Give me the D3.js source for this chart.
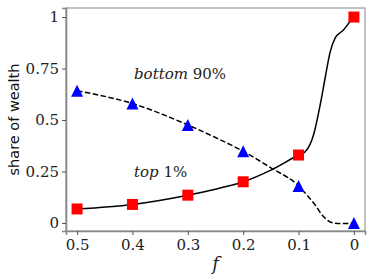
<!DOCTYPE html>
<meta charset="utf-8">
<script src="https://d3js.org/d3.v7.min.js"></script>
<style>
  body { margin: 0; background: white; }
  .serif { font-family: "DejaVu Serif", "Liberation Serif", serif; }
</style>
<div id="chart"></div>
<script>

  // marker positions (f) and the two series
  const fMarks = [0.5, 0.4, 0.3, 0.2, 0.1, 0];
  const top1 = [0.068, 0.09, 0.135, 0.2, 0.33, 1.0];
  const bottom90 = [0.642, 0.58, 0.476, 0.348, 0.18, 0.0];

  // the smooth curves drawn under the markers
  const fTopCurve = [0.5, 0.4, 0.3, 0.25, 0.2, 0.15, 0.1, 0.088, 0.073, 0.061, 0.052, 0.043, 0.034, 0.019, 0.007, 0];
  const topCurve = [0.068, 0.09, 0.135, 0.164, 0.2, 0.257, 0.33, 0.346, 0.427, 0.573, 0.704, 0.83, 0.898, 0.937, 0.978, 1.0];
  const fBottomCurve = [0.5, 0.4, 0.3, 0.25, 0.2, 0.15, 0.1, 0.085, 0.07, 0.055, 0.037, 0.02, 0];
  const bottomCurve = [0.642, 0.58, 0.476, 0.415, 0.348, 0.268, 0.18, 0.136, 0.087, 0.031, 0.0, -0.003, 0.0];

  const xTicks = [0.5, 0.4, 0.3, 0.2, 0.1, 0];
  const yTicks = [0, 0.25, 0.5, 0.75, 1];

  const W = 374, H = 280;
  const mLeft = 66, mRight = 365, mTop = 8, mBottom = 231;

  const svg = d3.select("#chart")
    .append("svg")
      .attr("width", W)
      .attr("height", H);

  const x = d3.scaleLinear().domain([0.52, -0.02]).range([mLeft, mRight]);
  const y = d3.scaleLinear().domain([-0.039, 1.044]).range([mBottom, mTop]);

  // frame
  svg.append("rect")
    .attr("x", mLeft).attr("y", mTop)
    .attr("width", mRight - mLeft).attr("height", mBottom - mTop)
    .attr("fill", "none").attr("stroke", "#999").attr("stroke-width", 1.2);

  // axes
  const xAxis = svg.append("g")
    .attr("transform", `translate(0,${mBottom})`)
    .call(d3.axisBottom(x).tickValues(xTicks).tickSize(4).tickPadding(4)
      .tickFormat(d => d === 0 ? "0" : d3.format(".1f")(d)));
  const yAxis = svg.append("g")
    .attr("transform", `translate(${mLeft},0)`)
    .call(d3.axisLeft(y).tickValues(yTicks).tickSize(4).tickPadding(3)
      .tickFormat(d => d === 0 ? "0" : d === 1 ? "1" : String(d)));

  [xAxis, yAxis].forEach(a => {
    a.attr("font-family", null);
    a.select(".domain").attr("stroke", "#888").attr("stroke-width", 1.6);
    a.selectAll(".tick line").attr("stroke", "#555");
    a.selectAll("text")
      .attr("class", "serif")
      .attr("font-size", 15)
      .attr("fill", "#222");
  });

  // curves
  const line = d3.line()
    .x(d => x(d[0]))
    .y(d => y(d[1]))
    .curve(d3.curveMonotoneX);

  svg.append("path")
    .datum(fTopCurve.map((f, i) => [f, topCurve[i]]))
    .attr("d", line)
    .attr("fill", "none")
    .attr("stroke", "black")
    .attr("stroke-width", 1.5);

  svg.append("path")
    .datum(fBottomCurve.map((f, i) => [f, bottomCurve[i]]))
    .attr("d", line)
    .attr("fill", "none")
    .attr("stroke", "black")
    .attr("stroke-width", 1.5)
    .attr("stroke-dasharray", "5.5,2.5");

  // markers
  const s = 11;
  svg.selectAll(".sq")
    .data(fMarks.map((f, i) => [f, top1[i]]))
    .join("rect")
      .attr("x", d => x(d[0]) - s / 2)
      .attr("y", d => y(d[1]) - s / 2)
      .attr("width", s)
      .attr("height", s)
      .attr("fill", "#ff0000");

  const h = 6;
  svg.selectAll(".tri")
    .data(fMarks.map((f, i) => [f, bottom90[i]]))
    .join("path")
      .attr("d", d => {
        const cx = x(d[0]), cy = y(d[1]);
        return `M${cx},${cy - h}L${cx - h},${cy + h}L${cx + h},${cy + h}Z`;
      })
      .attr("fill", "#0000ff");

  // labels
  const lab1 = svg.append("text")
    .attr("class", "serif")
    .attr("x", 134).attr("y", 79)
    .attr("font-size", 15).attr("fill", "#222");
  lab1.append("tspan").attr("font-style", "italic").text("bottom");
  lab1.append("tspan").text(" 90%");

  const lab2 = svg.append("text")
    .attr("class", "serif")
    .attr("x", 134).attr("y", 177)
    .attr("font-size", 15).attr("fill", "#222");
  lab2.append("tspan").attr("font-style", "italic").text("top");
  lab2.append("tspan").text(" 1%");

  svg.append("text")
    .attr("class", "serif")
    .attr("x", (mLeft + mRight) / 2).attr("y", 270)
    .attr("text-anchor", "middle")
    .attr("font-style", "italic")
    .attr("font-size", 18).attr("fill", "#222")
    .text("f");

  svg.append("text")
    .attr("transform", `translate(19,${(mTop + mBottom) / 2}) rotate(-90)`)
    .attr("text-anchor", "middle")
    .attr("font-family", "'DejaVu Sans', sans-serif")
    .attr("font-size", 14.5)
    .attr("fill", "#111")
    .text("share of wealth");

</script>
